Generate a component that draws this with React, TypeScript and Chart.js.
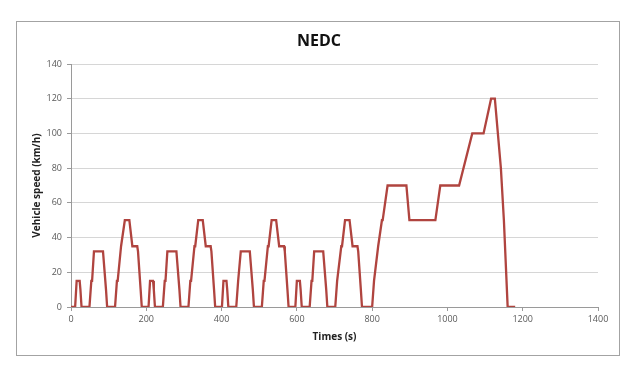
import React, { useEffect, useRef } from "react";
import { Chart, registerables } from "chart.js";

Chart.register(...registerables);

const chartTitle = "NEDC";
const xAxisTitle = "Times (s)";
const yAxisTitle = "Vehicle speed (km/h)";

// Urban (ECE-15) part, four cycles
const urbanTimes = [
  0, 11, 15, 23, 25, 28, 49, 54, 56, 61, 85, 93, 96, 117, 122, 124, 133, 135, 143, 155, 163, 176, 178, 185, 188,
  195, 206, 210, 218, 220, 223, 244, 249, 251, 256, 280, 288, 291, 312, 317, 319, 328, 330, 338, 350, 358, 371, 373, 380, 383,
  390, 401, 405, 413, 415, 418, 439, 444, 446, 451, 475, 483, 486, 507, 512, 514, 523, 525, 533, 545, 553, 566, 568, 575, 578,
  585, 596, 600, 608, 610, 613, 634, 639, 641, 646, 670, 678, 681, 702, 707, 709, 718, 720, 728, 740, 748, 761, 763, 770, 773,
];
const urbanSpeeds = [
  0, 0, 15, 15, 10, 0, 0, 15, 15, 32, 32, 10, 0, 0, 15, 15, 35, 35, 50, 50, 35, 35, 32, 10, 0,
  0, 0, 15, 15, 10, 0, 0, 15, 15, 32, 32, 10, 0, 0, 15, 15, 35, 35, 50, 50, 35, 35, 32, 10, 0,
  0, 0, 15, 15, 10, 0, 0, 15, 15, 32, 32, 10, 0, 0, 15, 15, 35, 35, 50, 50, 35, 35, 32, 10, 0,
  0, 0, 15, 15, 10, 0, 0, 15, 15, 32, 32, 10, 0, 0, 15, 15, 35, 35, 50, 50, 35, 35, 32, 10, 0,
];

// Extra-urban (EUDC) part
const extraUrbanTimes = [
  780, 800, 805, 807, 816, 818, 826, 828, 841, 891, 899, 968, 981, 1031, 1066, 1096, 1116, 1126, 1142, 1150, 1160, 1180,
];
const extraUrbanSpeeds = [
  0, 0, 15, 15, 35, 35, 50, 50, 70, 70, 50, 50, 70, 70, 100, 100, 120, 120, 80, 50, 0, 0,
];

const xMin = 0;
const xMax = 1400;
const xStep = 200;
const yMin = 0;
const yMax = 140;
const yStep = 20;

const FONT = "'Open Sans', 'DejaVu Sans', sans-serif";

const frameAndTitle = {
  id: "frameAndTitle",
  beforeDraw(chart: any) {
    const ctx = chart.ctx;
    ctx.save();
    ctx.fillStyle = "#ffffff";
    ctx.fillRect(0, 0, chart.width, chart.height);
    ctx.strokeStyle = "#a3a3a3";
    ctx.lineWidth = 1;
    ctx.strokeRect(16.5, 21.5, 603, 334);
    ctx.fillStyle = "#111111";
    ctx.font = `bold 16px ${FONT}`;
    ctx.textAlign = "center";
    ctx.textBaseline = "middle";
    ctx.fillText(chartTitle, 319, 41);
    ctx.restore();
  },
};

export default function App() {
  const canvasRef = useRef<HTMLCanvasElement | null>(null);

  useEffect(() => {
    document.body.style.margin = "0";
    const canvas = canvasRef.current;
    if (!canvas) return;
    const times = [...urbanTimes, ...extraUrbanTimes];
    const speeds = [...urbanSpeeds, ...extraUrbanSpeeds];
    const points = times.map((t, i) => ({ x: t, y: speeds[i] }));

    const chart = new Chart(canvas, {
      type: "line",
      data: {
        datasets: [
          {
            label: "Vehicle speed",
            data: points,
            borderColor: "#b0443f",
            borderWidth: 2.3,
            pointRadius: 0,
            tension: 0,
            fill: false,
          },
        ],
      },
      options: {
        animation: false,
        responsive: false,
        devicePixelRatio: 1,
        layout: { padding: { left: 16, right: 42, top: 64, bottom: 18 } },
        plugins: {
          legend: { display: false },
          tooltip: { enabled: false },
          title: { display: false },
        },
        scales: {
          x: {
            type: "linear",
            min: xMin,
            max: xMax,
            ticks: {
              stepSize: xStep,
              color: "#595959",
              font: { family: FONT, size: 9 },
              padding: 3,
              maxRotation: 0,
              autoSkip: false,
              callback: (v: any) => String(v),
            },
            grid: {
              display: true,
              drawOnChartArea: false,
              drawTicks: true,
              tickLength: 4,
              tickColor: "#9a9a9a",
            },
            border: { color: "#9a9a9a" },
            title: {
              display: true,
              text: xAxisTitle,
              color: "#222222",
              font: { family: FONT, size: 10, weight: "bold" },
              padding: { top: 0, bottom: 12 },
            },
            afterFit: (s: any) => {
              s.height = 48;
            },
          },
          y: {
            type: "linear",
            min: yMin,
            max: yMax,
            ticks: {
              stepSize: yStep,
              color: "#595959",
              font: { family: FONT, size: 9 },
              padding: 5,
              callback: (v: any) => String(v),
            },
            grid: {
              color: "#d6d6d6",
              tickColor: "#9a9a9a",
              tickLength: 4,
            },
            border: { color: "#9a9a9a" },
            title: {
              display: true,
              text: yAxisTitle,
              color: "#222222",
              font: { family: FONT, size: 10, weight: "bold" },
              padding: { top: 15.5, bottom: 0 },
            },
            afterFit: (s: any) => {
              s.width = 55;
            },
          },
        },
      },
      plugins: [frameAndTitle],
    });
    return () => chart.destroy();
  }, []);

  return (
    <div style={{ width: 640, height: 373 }}>
      <canvas ref={canvasRef} width={640} height={373} style={{ display: "block" }} />
    </div>
  );
}
